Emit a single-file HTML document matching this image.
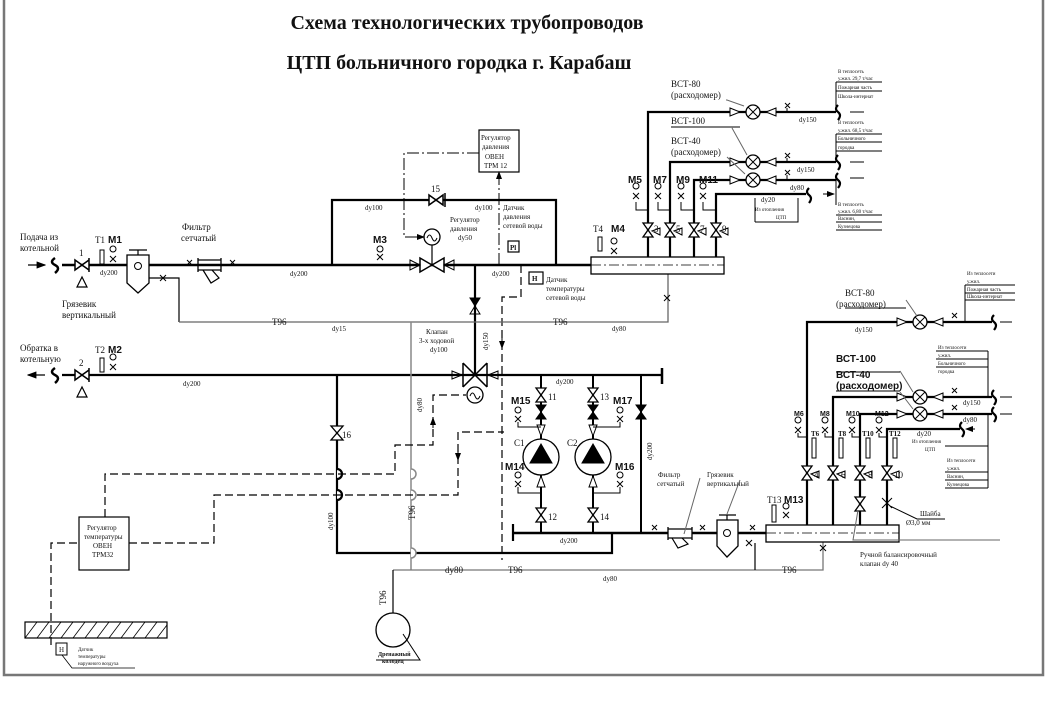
<!DOCTYPE html>
<html><head><meta charset="utf-8"><style>
html,body{margin:0;padding:0;background:#fff}
svg{display:block}
text{font-family:"Liberation Serif","DejaVu Serif",serif;fill:#111}
.s{font-size:7px}
.m{font-size:9px}
.b{font-family:"Liberation Sans",sans-serif;font-weight:bold;font-size:10px}
</style></head><body>
<svg width="1049" height="706" viewBox="0 0 1049 706" xmlns="http://www.w3.org/2000/svg">
<defs>
<marker id="ar" markerWidth="8" markerHeight="6" refX="7" refY="3" orient="auto"><path d="M0,0 L8,3 L0,6 Z" fill="#000"/></marker>
</defs>
<rect width="1049" height="706" fill="#fff"/>
<path d="M4,0 V675 H1043 V0" fill="none" stroke="#777" stroke-width="2.5"/>
<text x="467" y="29" text-anchor="middle" style="font-size:20px;font-weight:bold">Схема технологических трубопроводов</text>
<text x="459" y="69" text-anchor="middle" style="font-size:20px;font-weight:bold">ЦТП больничного городка  г. Карабаш</text>

<g stroke="#000" fill="none">
<path d="M62,265 H591" stroke-width="2.5"/>
<path d="M28,265 H45" stroke-width="1.2" marker-end="url(#ar)"/>
<path d="M55,258 q-6,4 0,7 q6,3 0,8" stroke-width="2.5"/>
<path d="M75,260 L89,270 V260 L75,270 Z M89,258 V272" stroke-width="1.5" fill="#fff"/>
<path d="M82,277 L77,287 H87 Z" stroke-width="1.2"/>
<rect x="100" y="250" width="4" height="14" stroke-width="1"/>
<circle cx="113" cy="249" r="3" stroke-width="1"/><path d="M110,256 L116,262 M116,256 L110,262" stroke-width="1"/>
<path d="M127,255 H149 V283 L138,293 L127,283 Z" stroke-width="1.3" fill="#fff"/>
<path d="M129,250 H147 M138,250 V255" stroke-width="1.2"/>
<circle cx="138" cy="266" r="3.5" stroke-width="1"/>
<path d="M149,278 H179 V322" stroke-width="1.2"/>
<path d="M160,275 l6,6 m0,-6 l-6,6" stroke-width="1"/>
<path d="M198,258 V272 M221,258 V272 M198,260 H221 V270 H198" stroke-width="1.3"/>
<path d="M203,270 L211,283 L219,278 L212,270" stroke-width="1.2"/>
<path d="M187,260 l5,5 m0,-5 l-5,5 M230,260 l5,5 m0,-5 l-5,5" stroke-width="1"/>
<path d="M332,265 V200 H556 V265" stroke-width="2.2"/>
<path d="M429,195 L443,205 V195 L429,205 Z M445,193 V207" stroke-width="1.5" fill="#fff"/>
<circle cx="380" cy="249" r="3" stroke-width="1"/><path d="M377,254 l6,6 m0,-6 l-6,6" stroke-width="1"/>
<path d="M420,258 L444,272 V258 L420,272 Z" stroke-width="1.5" fill="#fff"/>
<path d="M410,260 L420,265 L410,270 Z M454,260 L444,265 L454,270 Z" stroke-width="1"/>
<circle cx="432" cy="237" r="8" stroke-width="1.3"/>
<path d="M427,238 q2.5,-6 5,0 q2.5,6 5,0" stroke-width="1"/>
<path d="M432,245 V265" stroke-width="1.2"/>
<path d="M479,153 H404 V237 H424" stroke-width="1" stroke-dasharray="12,3,2,3" marker-end="url(#ar)"/>
<rect x="479" y="130" width="40" height="42" stroke-width="1.2"/>
<path d="M499,265 V172" stroke-width="1" stroke-dasharray="12,3,2,3" marker-end="url(#ar)"/>
<rect x="508" y="241" width="11" height="11" stroke-width="1.2"/>
<rect x="529" y="272" width="14" height="12" stroke-width="1.2"/>
<path d="M521,265 V297 H502 V560" stroke-width="1.2" stroke-dasharray="8,4"/>
<path d="M475,265 V375" stroke-width="2.2"/>
<path d="M470,298 L480,298 L475,306 Z" fill="#000" stroke-width="1"/>
<path d="M470,314 L480,314 L475,306 Z" stroke-width="1"/>
<path d="M463,363 L487,387 M487,363 L463,387 M463,363 V387 M487,363 V387" stroke-width="1.5"/>
<path d="M452,371 L462,375 L452,379 Z M498,371 L488,375 L498,379 Z" stroke-width="1"/>
<circle cx="475" cy="395" r="8" stroke-width="1.3"/>
<path d="M470,396 q2.5,-6 5,0 q2.5,6 5,0" stroke-width="1"/>
<path d="M62,375 H662" stroke-width="2.2"/>
<path d="M662,368 V384" stroke-width="2.5"/>
<path d="M45,375 H28" stroke-width="1.2" marker-end="url(#ar)"/>
<path d="M55,368 q-6,4 0,7 q6,3 0,8" stroke-width="2.5"/>
<path d="M75,370 L89,380 V370 L75,380 Z M89,368 V382" stroke-width="1.5" fill="#fff"/>
<path d="M82,387 L77,397 H87 Z" stroke-width="1.2"/>
<rect x="100" y="358" width="4" height="14" stroke-width="1"/>
<circle cx="113" cy="357" r="3" stroke-width="1"/><path d="M110,364 l6,6 m0,-6 l-6,6" stroke-width="1"/>
<path d="M179,322 H668 V274" stroke="#666" stroke-width="1.3"/>
<path d="M664,295 l6,6 m0,-6 l-6,6" stroke-width="1"/>
<rect x="591" y="257" width="133" height="17" stroke-width="1.3"/>
<path d="M591,265 H724" stroke-width="0.8" stroke-dasharray="10,3,2,3"/>
<rect x="598" y="237" width="4" height="14" stroke-width="1"/>
<circle cx="614" cy="241" r="3" stroke-width="1"/><path d="M611,248 l6,6 m0,-6 l-6,6" stroke-width="1"/>
<path d="M648,257 V112 H836 M670,257 V162 H836 M694,257 V180 H836 M716,257 V194 H806" stroke-width="2.2"/>
<g stroke-width="1.3" fill="#fff">
<path d="M643,223 H653 L643,237 H653 Z"/><path d="M665,223 H675 L665,237 H675 Z"/>
<path d="M689,223 H699 L689,237 H699 Z"/><path d="M711,223 H721 L711,237 H721 Z"/>
</g>
<path d="M660,235 L652,231 L660,228 Z M682,235 L674,231 L682,228 Z M706,235 L698,231 L706,228 Z M728,235 L720,231 L728,228 Z" stroke-width="1"/>
<g stroke-width="1">
<circle cx="636" cy="186" r="3"/><path d="M633,193 l6,6 m0,-6 l-6,6 M636,202 V210 H648"/>
<circle cx="658" cy="186" r="3"/><path d="M655,193 l6,6 m0,-6 l-6,6 M658,202 V210 H670"/>
<circle cx="681" cy="186" r="3"/><path d="M678,193 l6,6 m0,-6 l-6,6 M681,202 V210 H694"/>
<circle cx="703" cy="186" r="3"/><path d="M700,193 l6,6 m0,-6 l-6,6 M703,202 V210 H716"/>
</g>
<g stroke-width="1.3" fill="#fff">
<circle cx="753" cy="112" r="7"/><circle cx="753" cy="162" r="7"/><circle cx="753" cy="180" r="7"/>
</g>
<path d="M748,107 l10,10 m0,-10 l-10,10 M748,157 l10,10 m0,-10 l-10,10 M748,175 l10,10 m0,-10 l-10,10" stroke-width="1"/>
<path d="M730,108 L740,112 L730,116 Z M776,108 L766,112 L776,116 Z M730,158 L740,162 L730,166 Z M776,158 L766,162 L776,166 Z M730,176 L740,180 L730,184 Z M776,176 L766,180 L776,184 Z" stroke-width="1" fill="#fff"/>
<path d="M785,103 l5,5 m0,-5 l-5,5 M785,153 l5,5 m0,-5 l-5,5 M785,170 l5,5 m0,-5 l-5,5" stroke-width="1"/>
<path d="M787,108 V112 M787,158 V162 M787,175 V180" stroke-width="1"/>
<path d="M726,100 H727 L744,106 M732,128 L747,155 M727,157 L745,174" stroke="#666" stroke-width="1"/>
<path d="M671,127 H740" stroke-width="1"/>
<path d="M838,105 q-4,4 0,7 q4,3 0,8 M838,155 q-4,4 0,7 q4,3 0,8 M838,173 q-4,4 0,7 q4,3 0,8 M809,188 q-4,4 0,7 q4,3 0,8" stroke-width="2.2"/>
<path d="M850,112 H864 M850,162 H864 M850,178 H864 M823,194 H834" stroke-width="1" marker-end="url(#ar)"/>
<path d="M836,112 V82 M836,162 V134 M836,178 V205" stroke-width="1"/>
<path d="M836,82 H882 M836,91 H882 M836,134 H882 M836,142 H882 M836,151 H882 M836,215 H882 M836,222 H882 M836,230 H882 M755,198 V222 H755 M755,222 H798 V198" stroke-width="1"/>
<path d="M337,375 V553 H612 V533" stroke-width="2.2"/>
<path d="M331,426 H343 L331,440 H343 Z" stroke-width="1.3" fill="#fff"/>
<path d="M337,469 a5,5 0 0 1 0,10 M337,490 a5,5 0 0 1 0,10" stroke-width="2.2" fill="#fff"/>
<path d="M411,322 V570" stroke="#888" stroke-width="1.5"/>
<path d="M411,469 a5,5 0 0 1 0,10 M411,490 a5,5 0 0 1 0,10 M411,548 a5,5 0 0 1 0,10" stroke="#888" stroke-width="1.5" fill="#fff"/>
<path d="M393,570 H823 V542" stroke="#777" stroke-width="1.3"/>
<path d="M393,570 V613" stroke-width="1.2"/>
<circle cx="393" cy="630" r="17" stroke-width="1.3"/>
<path d="M403,634 L420,660 H376" stroke-width="1"/>
<path d="M755,543 V570" stroke-width="1.2"/>
<path d="M513,533 H766" stroke-width="2.5"/>
<path d="M513,524 V541" stroke-width="2.2"/>
<path d="M541,375 V533 M593,375 V533 M641,375 V533" stroke-width="2"/>
<g stroke-width="1.3" fill="#fff">
<path d="M536,388 H546 L536,402 H546 Z"/><path d="M588,388 H598 L588,402 H598 Z"/>
<path d="M536,508 H546 L536,522 H546 Z"/><path d="M588,508 H598 L588,522 H598 Z"/>
<circle cx="541" cy="457" r="18"/><circle cx="593" cy="457" r="18"/>
</g>
<path d="M536,405 H546 L536,419 H546 Z M588,405 H598 L588,419 H598 Z M636,405 H646 L636,419 H646 Z" fill="#000" stroke-width="1"/>
<path d="M530,463 L541,444 L552,463 Z M582,463 L593,444 L604,463 Z" fill="#000"/>
<path d="M537,425 H545 L541,436 Z M589,425 H597 L593,436 Z M537,487 H545 L541,476 Z M589,487 H597 L593,476 Z" stroke-width="1" fill="#fff"/>
<g stroke-width="1">
<circle cx="518" cy="410" r="3"/><path d="M515,416 l6,6 m0,-6 l-6,6 M518,422 V427 H541"/>
<circle cx="620" cy="410" r="3"/><path d="M617,416 l6,6 m0,-6 l-6,6 M620,422 V427 H593"/>
<circle cx="518" cy="475" r="3"/><path d="M515,481 l6,6 m0,-6 l-6,6 M518,487 V493 H541"/>
<circle cx="620" cy="475" r="3"/><path d="M617,481 l6,6 m0,-6 l-6,6 M620,487 V493 H593"/>
</g>
<path d="M668,527 V540 M692,527 V540 M668,529 H692 V538 H668" stroke-width="1.3" fill="#fff"/>
<path d="M672,538 L678,548 L688,544 L682,538" stroke-width="1.2"/>
<path d="M684,534 L700,478 M727,514 L740,480" stroke="#666" stroke-width="1"/>
<path d="M717,520 H738 V546 L727,557 L717,546 Z" stroke-width="1.3" fill="#fff"/>
<circle cx="727" cy="533" r="3.5" stroke-width="1"/>
<path d="M719,515 H736 M727,515 V520" stroke-width="1.2"/>
<path d="M652,525 l5,5 m0,-5 l-5,5 M700,525 l5,5 m0,-5 l-5,5 M750,525 l5,5 m0,-5 l-5,5 M746,540 l6,6 m0,-6 l-6,6 M820,545 l6,6 m0,-6 l-6,6" stroke-width="1"/>
<rect x="766" y="525" width="133" height="17" stroke-width="1.3" fill="#fff"/>
<path d="M766,533 H899" stroke-width="0.8" stroke-dasharray="10,3,2,3"/>
<rect x="772" y="505" width="4" height="17" stroke-width="1"/>
<circle cx="786" cy="506" r="3" stroke-width="1"/><path d="M783,512 l6,6 m0,-6 l-6,6" stroke-width="1"/>
<path d="M807,525 V322 H992 M833,525 V397 H992 M860,525 V414 H992 M887,525 V429 H960" stroke-width="2.2"/>
<g stroke-width="1.3" fill="#fff">
<path d="M802,466 H812 L802,480 H812 Z"/><path d="M828,466 H838 L828,480 H838 Z"/>
<path d="M855,466 H865 L855,480 H865 Z"/><path d="M882,466 H892 L882,480 H892 Z"/>
<path d="M855,497 H865 L855,511 H865 Z"/>
</g>
<path d="M819,478 L811,474 L819,471 Z M845,478 L837,474 L845,471 Z M872,478 L864,474 L872,471 Z M899,478 L891,474 L899,471 Z" stroke-width="1"/>
<path d="M882,498 L892,508 M892,498 L882,508 M890,506 L917,519 H945" stroke-width="1"/>
<path d="M858,510 L853,540 H1000" stroke="#666" stroke-width="1"/>
<g stroke-width="1">
<rect x="812" y="438" width="4" height="20"/><rect x="839" y="438" width="4" height="20"/>
<rect x="866" y="438" width="4" height="20"/><rect x="893" y="438" width="4" height="20"/>
<circle cx="798" cy="420" r="3"/><path d="M795,427 l6,6 m0,-6 l-6,6 M798,433 V437 H807"/>
<circle cx="825" cy="420" r="3"/><path d="M822,427 l6,6 m0,-6 l-6,6 M825,433 V437 H833"/>
<circle cx="852" cy="420" r="3"/><path d="M849,427 l6,6 m0,-6 l-6,6 M852,433 V437 H860"/>
<circle cx="879" cy="420" r="3"/><path d="M876,427 l6,6 m0,-6 l-6,6 M879,433 V437 H887"/>
</g>
<g stroke-width="1.3" fill="#fff">
<circle cx="920" cy="322" r="7"/><circle cx="920" cy="397" r="7"/><circle cx="920" cy="414" r="7"/>
</g>
<path d="M915,317 l10,10 m0,-10 l-10,10 M915,392 l10,10 m0,-10 l-10,10 M915,409 l10,10 m0,-10 l-10,10" stroke-width="1"/>
<path d="M897,318 L907,322 L897,326 Z M943,318 L933,322 L943,326 Z M897,393 L907,397 L897,401 Z M943,393 L933,397 L943,401 Z M897,410 L907,414 L897,418 Z M943,410 L933,414 L943,418 Z" stroke-width="1" fill="#fff"/>
<path d="M952,313 l5,5 m0,-5 l-5,5 M952,388 l5,5 m0,-5 l-5,5 M952,405 l5,5 m0,-5 l-5,5" stroke-width="1"/>
<path d="M906,300 L917,316 M900,371 L913,392 M900,392 L913,409" stroke="#666" stroke-width="1"/>
<path d="M845,308 H906 M836,372 H900 M836,391 H900" stroke-width="1"/>
<path d="M994,315 q-4,4 0,7 q4,3 0,8 M994,390 q-4,4 0,7 q4,3 0,8 M994,407 q-4,4 0,7 q4,3 0,8 M962,422 q-4,4 0,7 q4,3 0,8" stroke-width="2.2"/>
<path d="M1012,322 H1000 M1012,397 H1000 M1012,414 H1000 M975,429 H966" stroke-width="1" marker-end="url(#ar)"/>
<path d="M965,322 V285 M988,397 V351 M988,414 V488" stroke-width="1"/>
<path d="M965,285 H1015 M965,293 H1015 M965,300 H1015 M936,351 H988 M936,359 H988 M936,367 H988 M945,446 H988 M945,472 H988 M945,480 H988 M945,488 H988" stroke-width="1"/>
<path d="M105,517 V474 H395 V445 H433 V395 H466" stroke-width="1.2" stroke-dasharray="8,4"/>
<path d="M129,543 H214 V495 H458 V432 H504" stroke-width="1.2" stroke-dasharray="8,4"/>
<path d="M51,645 V543 H79" stroke-width="1.2" stroke-dasharray="8,4"/>
<path d="M433,428 V418" stroke-width="1" marker-end="url(#ar)"/>
<path d="M458,445 V460" stroke-width="1" marker-end="url(#ar)"/>
<path d="M502,330 V348" stroke-width="1" marker-end="url(#ar)"/>
<rect x="79" y="517" width="50" height="53" stroke-width="1.2" fill="#fff"/>
<rect x="25" y="622" width="142" height="16" stroke-width="1.2"/>
<path d="M25,638 l12,-16 M37,638 l12,-16 M49,638 l12,-16 M61,638 l12,-16 M73,638 l12,-16 M85,638 l12,-16 M97,638 l12,-16 M109,638 l12,-16 M121,638 l12,-16 M133,638 l12,-16 M145,638 l12,-16 M157,638 l10,-13" stroke-width="0.8"/>
<rect x="56" y="643" width="11" height="12" stroke-width="1"/>
<path d="M62,655 L72,668 H135" stroke-width="0.8"/>
</g>

<text class="m" x="20" y="240">Подача из</text>
<text class="m" x="20" y="251">котельной</text>
<text class="m" x="20" y="351">Обратка в</text>
<text class="m" x="20" y="362">котельную</text>
<text class="m" x="79" y="256">1</text><text class="m" x="79" y="366">2</text>
<text class="m" x="95" y="243">T1</text><text class="b" x="108" y="243">M1</text>
<text class="m" x="95" y="353">T2</text><text class="b" x="108" y="353">M2</text>
<text class="s" x="100" y="275">dy200</text>
<text class="m" x="62" y="307">Грязевик</text>
<text class="m" x="62" y="318">вертикальный</text>
<text class="m" x="182" y="230">Фильтр</text>
<text class="m" x="181" y="241">сетчатый</text>
<text class="s" x="290" y="276">dy200</text>
<text class="s" x="365" y="210">dy100</text>
<text class="s" x="475" y="210">dy100</text>
<text class="m" x="431" y="192">15</text>
<text class="b" x="373" y="243">M3</text>
<text class="s" x="450" y="222">Регулятор</text>
<text class="s" x="450" y="231">давления</text>
<text class="s" x="458" y="240">dy50</text>
<text class="s" x="503" y="210">Датчик</text>
<text class="s" x="503" y="219">давления</text>
<text class="s" x="503" y="228">сетевой воды</text>
<text class="s" x="481" y="140">Регулятор</text>
<text class="s" x="482" y="149">давления</text>
<text class="s" x="485" y="159">ОВЕН</text>
<text class="s" x="484" y="168">ТРМ 12</text>
<text class="s" x="510" y="250" style="font-weight:bold">Pl</text>
<text class="s" x="532" y="281" style="font-weight:bold">H</text>
<text class="s" x="492" y="276">dy200</text>
<text class="s" x="546" y="282">Датчик</text>
<text class="s" x="546" y="291">температуры</text>
<text class="s" x="546" y="300">сетевой воды</text>
<text class="m" x="272" y="325">T96</text>
<text class="s" x="332" y="331">dy15</text>
<text class="m" x="553" y="325">T96</text>
<text class="s" x="612" y="331">dy80</text>
<text class="s" x="426" y="334">Клапан</text>
<text class="s" x="419" y="343">3-х ходовой</text>
<text class="s" x="430" y="352">dy100</text>
<text class="s" x="488" y="350" transform="rotate(-90 488 350)">dy150</text>
<text class="s" x="183" y="386">dy200</text>
<text class="s" x="556" y="384">dy200</text>
<text class="m" x="342" y="438">16</text>
<text class="m" x="548" y="400">11</text><text class="m" x="600" y="400">13</text>
<text class="m" x="548" y="520">12</text><text class="m" x="600" y="520">14</text>
<text class="b" x="511" y="404">M15</text><text class="b" x="613" y="404">M17</text>
<text class="b" x="505" y="470">M14</text><text class="b" x="615" y="470">M16</text>
<text class="m" x="514" y="446">C1</text><text class="m" x="567" y="446">C2</text>
<text class="s" x="652" y="460" transform="rotate(-90 652 460)">dy200</text>
<text class="s" x="333" y="530" transform="rotate(-90 333 530)">dy100</text>
<text class="s" x="422" y="412" transform="rotate(-90 422 412)">dy80</text>
<text class="m" x="415" y="520" transform="rotate(-90 415 520)">T96</text>
<text class="s" x="560" y="543">dy200</text>
<text class="s" x="87" y="530">Регулятор</text>
<text class="s" x="84" y="539">температуры</text>
<text class="s" x="93" y="548">ОВЕН</text>
<text class="s" x="92" y="557">ТРМ32</text>
<text class="s" x="59" y="652">H</text>
<text class="s" x="78" y="651" style="font-size:5px">Датчик</text>
<text class="s" x="78" y="658" style="font-size:5px">температуры</text>
<text class="s" x="78" y="665" style="font-size:5px">наружного воздуха</text>
<text class="m" x="445" y="573">dy80</text>
<text class="m" x="508" y="573">T96</text>
<text class="s" x="603" y="581">dy80</text>
<text class="m" x="782" y="573">T96</text>
<text class="m" x="386" y="605" transform="rotate(-90 386 605)">T96</text>
<text class="s" x="378" y="656" style="font-size:6px;font-weight:bold">Дренажный</text>
<text class="s" x="382" y="663" style="font-size:6px;font-weight:bold">колодец</text>
<text class="m" x="593" y="232">T4</text><text class="b" x="611" y="232">M4</text>
<text class="b" x="628" y="183">M5</text><text class="b" x="653" y="183">M7</text>
<text class="b" x="676" y="183">M9</text><text class="b" x="699" y="183">M11</text>
<text class="m" x="654" y="232">3</text><text class="m" x="676" y="232">5</text>
<text class="m" x="700" y="232">7</text><text class="m" x="722" y="232">9</text>
<text class="m" x="671" y="87">ВСТ-80</text>
<text class="m" x="671" y="98">(расходомер)</text>
<text class="m" x="671" y="124">ВСТ-100</text>
<text class="m" x="671" y="144">ВСТ-40</text>
<text class="m" x="671" y="155">(расходомер)</text>
<text class="s" x="799" y="122">dy150</text>
<text class="s" x="797" y="172">dy150</text>
<text class="s" x="790" y="190">dy80</text>
<text class="s" x="761" y="202">dy20</text>
<text class="s" x="755" y="211" style="font-size:5px">Из отопления</text>
<text class="s" x="776" y="219" style="font-size:5px">ЦТП</text>
<g style="font-size:5px">
<text x="838" y="73">В теплосеть</text><text x="838" y="80">у.жил. 29,7 т/час</text>
<text x="838" y="89">Пожарная часть</text><text x="838" y="98">Школа-интернат</text>
<text x="838" y="124">В теплосеть</text><text x="838" y="132">у.жил. 68,5 т/час</text>
<text x="838" y="140">Больничного</text><text x="838" y="149">городка</text>
<text x="838" y="206">В теплосеть</text><text x="838" y="213">у.жил. 6,80 т/час</text>
<text x="838" y="220">Васнин,</text><text x="838" y="228">Кузнецова</text>
<text x="967" y="275">Из теплосети</text><text x="967" y="283">у.жил.</text>
<text x="967" y="291">Пожарная часть</text><text x="967" y="298">Школа-интернат</text>
<text x="938" y="349">Из теплосети</text><text x="938" y="357">у.жил.</text>
<text x="938" y="365">Больничного</text><text x="938" y="373">городка</text>
<text x="947" y="462">Из теплосети</text><text x="947" y="470">у.жил.</text>
<text x="947" y="478">Васнин,</text><text x="947" y="486">Кузнецова</text>
<text x="912" y="443">Из отопления</text><text x="925" y="451">ЦТП</text>
</g>
<text class="m" x="845" y="296">ВСТ-80</text>
<text class="m" x="836" y="307">(расходомер)</text>
<text class="s" x="855" y="332">dy150</text>
<text class="b" x="836" y="362">ВСТ-100</text>
<text class="b" x="836" y="378">ВСТ-40</text>
<text class="b" x="836" y="389">(расходомер)</text>
<text class="s" x="963" y="405">dy150</text>
<text class="s" x="963" y="422">dy80</text>
<text class="s" x="917" y="436">dy20</text>
<text class="b" x="794" y="416" style="font-size:7px">M6</text><text class="b" x="820" y="416" style="font-size:7px">M8</text>
<text class="b" x="846" y="416" style="font-size:7px">M10</text><text class="b" x="875" y="416" style="font-size:7px">M12</text>
<text class="s" x="811" y="436" style="font-weight:bold">T6</text><text class="s" x="838" y="436" style="font-weight:bold">T8</text>
<text class="s" x="862" y="436" style="font-weight:bold">T10</text><text class="s" x="889" y="436" style="font-weight:bold">T12</text>
<text class="m" x="814" y="478">4</text><text class="m" x="841" y="478">6</text>
<text class="m" x="868" y="478">8</text><text class="m" x="894" y="478">10</text>
<text class="m" x="767" y="503">T13</text><text class="b" x="784" y="503">M13</text>
<text class="s" x="658" y="477">Фильтр</text>
<text class="s" x="657" y="486">сетчатый</text>
<text class="s" x="707" y="477">Грязевик</text>
<text class="s" x="707" y="486">вертикальный</text>
<text class="s" x="920" y="516">Шайба</text>
<text class="s" x="906" y="525">Ø3,0 мм</text>
<text class="s" x="860" y="557">Ручной балансировочный</text>
<text class="s" x="860" y="566">клапан dy 40</text>
</svg>
</body></html>
